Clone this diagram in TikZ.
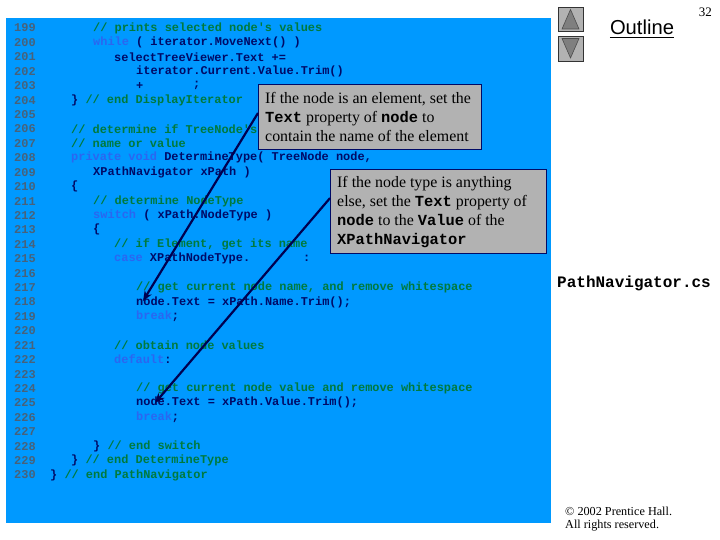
\documentclass[tikz,border=0pt]{standalone}
\usepackage{fontspec}
\setmainfont{Liberation Serif}
\setsansfont{Liberation Sans}
\setmonofont{Liberation Mono}
\definecolor{panelblue}{HTML}{0099FF}
\definecolor{codeink}{HTML}{000A66}
\definecolor{numink}{HTML}{48627A}
\definecolor{cmtink}{HTML}{007A3D}
\definecolor{kwink}{HTML}{2B66F0}
\definecolor{boxgray}{HTML}{B2B2B2}
\definecolor{trigray}{HTML}{7F7F7F}
\definecolor{arrowink}{HTML}{000050}
\newcommand{\cm}[1]{\textcolor{cmtink}{#1}}
\newcommand{\kw}[1]{\textcolor{kwink}{#1}}
\newcommand{\mb}[1]{{\ttfamily\bfseries\fontsize{15.4}{18}\selectfont #1}}
\usetikzlibrary{arrows.meta}
\tikzset{
  x=1pt,y=-1pt,
  code/.style={anchor=west,inner sep=0pt,text=codeink,font=\ttfamily\bfseries\fontsize{11.93}{14}\selectfont},
  lnum/.style={code,text=numink},
  callout/.style={draw=codeink,line width=0.8pt,fill=boxgray,anchor=north west,inner sep=0pt},
  calltext/.style={anchor=north west,inner sep=0pt,align=left,text=black,font=\fontsize{15.9}{18.9}\selectfont},
  pointer/.style={draw=arrowink,line width=2.2pt,-{Stealth[length=10pt,width=8pt]}},
  navbtn/.style={draw=black!80,line width=0.6pt,fill=boxgray},
  navtri/.style={draw=black!70,line width=0.6pt,fill=trigray},
}
\begin{document}
\begin{tikzpicture}
\useasboundingbox (0,0) rectangle (720,540);
\fill[white] (0,0) rectangle (720,540);
\fill[panelblue] (6,18) rectangle (551,523);
\foreach \n/\i in {199/0,200/1,201/2,202/3,203/4,204/5,205/6,206/7,207/8,208/9,209/10,210/11,211/12,212/13,213/14,214/15,215/16,216/17,217/18,218/19,219/20,220/21,221/22,222/23,223/24,224/25,225/26,226/27,227/28,228/29,229/30,230/31}
  \node[lnum] (n\n) at (14,28+14.42*\i) {\n};
\node[code] (c199) at (93,28.0) {\cm{// prints selected node's values}};
\node[code] (c200) at (93,42.4) {\kw{while} ( iterator.MoveNext() )};
\node[code] (c201) at (114,56.8) {selectTreeViewer.Text +=};
\node[code] (c202) at (136,71.3) {iterator.Current.Value.Trim()};
\node[code] (c203) at (136,85.7) {+};
\node[code] (c203b) at (193,85.7) {;};
\node[code] (c204) at (71,100.1) {\} \cm{// end DisplayIterator}};
\node[code] (c206) at (71,128.9) {\cm{// determine if TreeNode's}};
\node[code] (c207) at (71,143.4) {\cm{// name or value}};
\node[code] (c208) at (71,157.8) {\kw{private} \kw{void} DetermineType( TreeNode node,};
\node[code] (c209) at (93,172.2) {XPathNavigator xPath )};
\node[code] (c210) at (71,186.6) {\{};
\node[code] (c211) at (93,201.0) {\cm{// determine NodeType}};
\node[code] (c212) at (93,215.5) {\kw{switch} ( xPath.NodeType )};
\node[code] (c213) at (93,229.9) {\{};
\node[code] (c214) at (114,244.3) {\cm{// if Element, get its name}};
\node[code] (c215) at (114,258.7) {\kw{case} XPathNodeType.};
\node[code] (c215b) at (303,258.7) {:};
\node[code] (c217) at (136,287.6) {\cm{// get current node name, and remove whitespace}};
\node[code] (c218) at (136,302.0) {node.Text = xPath.Name.Trim();};
\node[code] (c219) at (136,316.4) {\kw{break};};
\node[code] (c221) at (114,345.2) {\cm{// obtain node values}};
\node[code] (c222) at (114,359.6) {\kw{default}:};
\node[code] (c224) at (136,388.5) {\cm{// get current node value and remove whitespace}};
\node[code] (c225) at (136,402.9) {node.Text = xPath.Value.Trim();};
\node[code] (c226) at (136,417.3) {\kw{break};};
\node[code] (c228) at (93,446.2) {\} \cm{// end switch}};
\node[code] (c229) at (71,460.6) {\} \cm{// end DetermineType}};
\node[code] (c230) at (50,475.0) {\} \cm{// end PathNavigator}};
% callouts
\node[callout,minimum width=223pt,minimum height=65pt] (boxa) at (258,84) {};
\node[calltext] (boxatext) at (265,92)
  {If the node is an element, set the\\ \mb{Text} property of \mb{node} to\\ contain the name of the element};
\node[callout,minimum width=216pt,minimum height=84pt] (boxb) at (330,169) {};
\node[calltext] (boxbtext) at (337,176)
  {If the node type is anything\\ else, set the \mb{Text} property of\\ \mb{node} to the \mb{Value} of the\\ \mb{XPathNavigator}};
\coordinate (tipa) at (143,301);
\coordinate (tipb) at (155,403);
\draw[pointer] (boxa.178) -- (tipa);
\draw[pointer] (boxb.173) -- (tipb);
% navigation
\node[navbtn,minimum width=25pt,minimum height=24pt,inner sep=0pt,anchor=north west] (btnup) at (558,7) {};
\node[navbtn,minimum width=25pt,minimum height=25pt,inner sep=0pt,anchor=north west] (btndn) at (558,36) {};
\draw[navtri] (570.5,9.5) -- (579,29) -- (562,29) -- cycle;
\draw[navtri] (562,38.5) -- (579,38.5) -- (570.5,58) -- cycle;
\node[anchor=center,inner sep=0pt,font=\sffamily\fontsize{20.2}{24}\selectfont] (outline) at (642,27.5) {Outline};
\draw[line width=1pt] (outline.west |- 0,37.5) -- (outline.east |- 0,37.5);
\node[anchor=east,inner sep=0pt,font=\fontsize{13}{15}\selectfont] (pageno) at (712,12) {32};
\node[anchor=west,inner sep=0pt,font=\ttfamily\bfseries\fontsize{16}{18}\selectfont] (fname) at (557,283) {PathNavigator.cs};
\node[anchor=west,inner sep=0pt,font=\fontsize{12.2}{14}\selectfont] (copy1) at (565,511) {© 2002 Prentice Hall.};
\node[anchor=west,inner sep=0pt,font=\fontsize{12.2}{14}\selectfont] (copy2) at (565,526) {All rights reserved.};
\end{tikzpicture}
\end{document}
